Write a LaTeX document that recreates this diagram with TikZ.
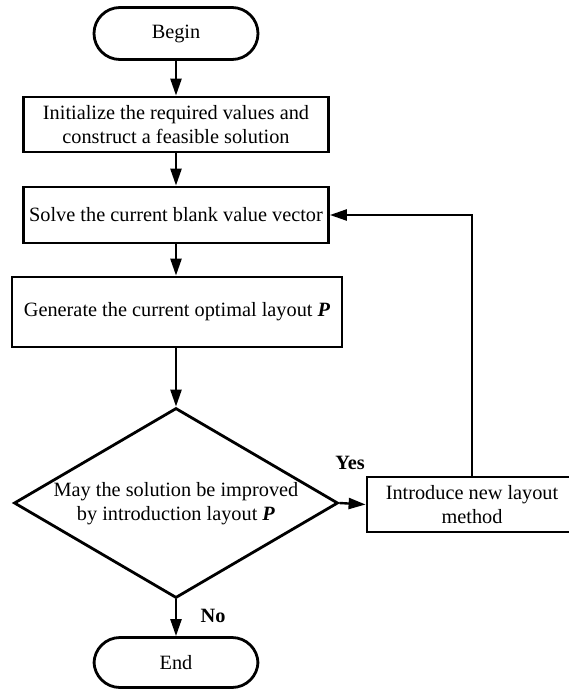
\documentclass[tikz,border=0pt]{standalone}
\usepackage{fontspec}
\setmainfont{Liberation Serif}
\usetikzlibrary{shapes.geometric,arrows.meta}
\begin{document}
\begin{tikzpicture}[x=1pt,y=-1pt,
  every node/.style={font=\fontsize{20.3pt}{24pt}\selectfont},
  terminal/.style={draw,line width=2.8pt,rectangle,rounded corners=26pt,minimum width=164pt,minimum height=52pt,inner sep=0pt},
  procbox/.style={draw,line width=2.8pt,rectangle,inner sep=0pt,align=center},
  decision/.style={draw,line width=2.8pt,diamond,inner sep=0pt,minimum width=324pt,minimum height=190pt},
  conn/.style={line width=2.4pt,-{Triangle[length=17pt,width=11pt]}},
  lbl/.style={font=\fontsize{20.3pt}{24pt}\selectfont\bfseries}]
\useasboundingbox (0,0) rectangle (569,690);
\node[terminal] (begin) at (176,33.5) {Begin};
\node[procbox,minimum width=305pt,minimum height=55pt] (init) at (176,124.5) {Initialize the required values and\\construct a feasible solution};
\node[procbox,minimum width=305pt,minimum height=56pt] (solve) at (176,215) {Solve the current blank value vector};
\node[procbox,minimum width=330pt,minimum height=70pt] (gen) at (177,312) {Generate the current optimal layout \textbf{\textit{P}}};
\node[decision] (dec) at (176,503) {};
\node[align=center] (dectext) at (176,503.5) {May the solution be improved\\by introduction layout \textbf{\textit{P}}};
\node[procbox,minimum width=210pt,minimum height=55pt] (intro) at (472,504.5) {Introduce new layout\\method};
\node[terminal,minimum height=50pt] (end) at (176,662.5) {End};
\node[lbl] (yes) at (350,463) {Yes};
\node[lbl] (no) at (213,616) {No};
\draw[conn] (begin.south) -- (init.north);
\draw[conn] (init.south) -- (solve.north);
\draw[conn] (solve.south) -- (solve.south |- gen.north);
\draw[conn] (gen.south -| dec.north) -- (dec.north);
\draw[conn] (dec.south) -- (end.north);
\draw[conn] (dec.east) -- (intro.west);
\draw[conn] (intro.north) |- (solve.east);
\end{tikzpicture}
\end{document}
